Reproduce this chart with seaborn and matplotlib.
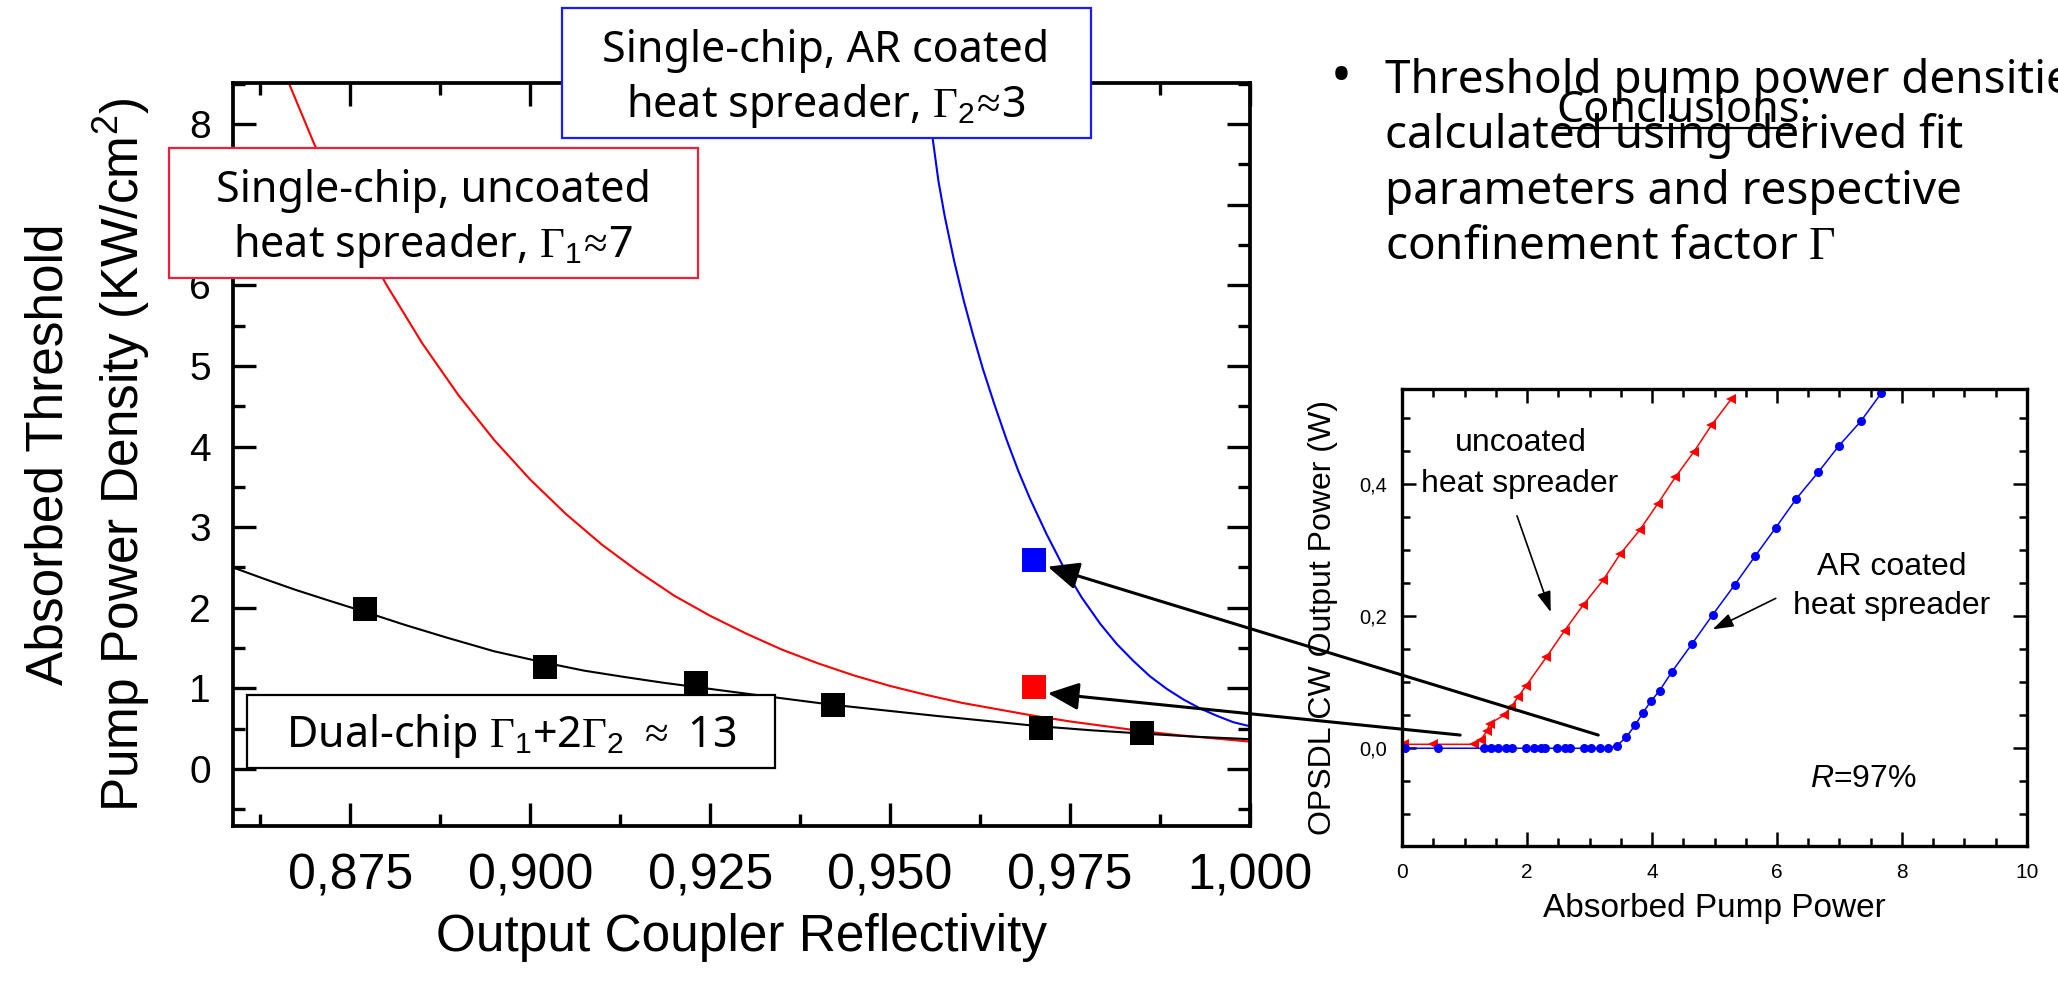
import matplotlib
matplotlib.use("Agg")
import matplotlib.pyplot as plt
import seaborn as sns
from matplotlib.patches import Rectangle, ConnectionPatch
from matplotlib.lines import Line2D
from matplotlib.ticker import MultipleLocator, FixedLocator, FixedFormatter

# ---------------- data ----------------
# main panel: measured threshold densities
dual_R = [0.877, 0.902, 0.923, 0.942, 0.971, 0.985]
dual_P = [1.99, 1.27, 1.07, 0.80, 0.51, 0.45]
uncoated_R = [0.970]
uncoated_P = [1.02]
arcoated_R = [0.970]
arcoated_P = [2.59]

# fit curves
fit_dual_R = [0.8587, 0.8630, 0.8673, 0.8720, 0.8770, 0.8825, 0.8884, 0.8950, 0.9020,
              0.9075, 0.9132, 0.9185, 0.9236, 0.9330, 0.9417, 0.9500, 0.9563, 0.9653,
              0.9708, 0.9780, 0.9850, 0.9925, 1.0000]
fit_dual_P = [2.50, 2.36, 2.225, 2.09, 1.95, 1.79, 1.63, 1.46, 1.32,
              1.22, 1.14, 1.07, 1.01, 0.90, 0.80, 0.72, 0.66, 0.58,
              0.53, 0.48, 0.44, 0.40, 0.37]

fit_unc_R = [0.8665, 0.870, 0.875, 0.880, 0.885, 0.890, 0.895, 0.900, 0.905, 0.910,
             0.915, 0.920, 0.925, 0.930, 0.935, 0.940, 0.945, 0.950, 0.955, 0.960,
             0.965, 0.970, 0.975, 0.980, 0.985, 0.990, 0.995, 1.000]
fit_unc_P = [8.50, 7.75, 6.83, 6.01, 5.28, 4.64, 4.08, 3.59, 3.16, 2.78,
             2.45, 2.15, 1.90, 1.68, 1.48, 1.31, 1.16, 1.03, 0.92, 0.82,
             0.74, 0.66, 0.59, 0.53, 0.47, 0.42, 0.38, 0.34]

fit_ar_R = [0.9548, 0.9559, 0.9567, 0.9576, 0.9589, 0.9602, 0.9615, 0.9629, 0.9645,
            0.9662, 0.9678, 0.9694, 0.9717, 0.9740, 0.9766, 0.9792, 0.9815, 0.9838,
            0.9861, 0.9885, 0.9908, 0.9931, 0.9954, 0.9977, 1.0000]
fit_ar_P = [8.51, 7.83, 7.30, 6.85, 6.30, 5.82, 5.39, 4.96, 4.52,
            4.08, 3.70, 3.36, 2.92, 2.52, 2.13, 1.80, 1.55, 1.34,
            1.15, 0.99, 0.86, 0.75, 0.66, 0.58, 0.53]

x_ticks = [0.875, 0.900, 0.925, 0.950, 0.975, 1.000]
x_tick_labels = ["0,875", "0,900", "0,925", "0,950", "0,975", "1,000"]
y_ticks = [0, 1, 2, 3, 4, 5, 6, 7, 8]
y_tick_labels = ["0", "1", "2", "3", "4", "5", "6", "7", "8"]

# inset: output power vs absorbed pump power (R = 97 %)
unc_pump = [0.03, 0.50, 1.15, 1.26, 1.36, 1.40, 1.63, 1.75, 1.86, 1.98, 2.31, 2.60,
            2.90, 3.22, 3.49, 3.80, 4.09, 4.37, 4.67, 4.95, 5.27]
unc_out = [0.006, 0.006, 0.006, 0.013, 0.026, 0.037, 0.050, 0.063, 0.078, 0.094, 0.138, 0.178,
           0.217, 0.255, 0.294, 0.330, 0.370, 0.410, 0.449, 0.489, 0.529]
ar_pump = [0.05, 0.58, 1.31, 1.42, 1.53, 1.66, 1.76, 1.99, 2.11, 2.22, 2.28, 2.48,
           2.61, 2.68, 2.91, 3.03, 3.16, 3.29, 3.44, 3.59, 3.73, 3.85, 3.98, 4.12,
           4.32, 4.64, 4.97, 5.32, 5.65, 5.98, 6.31, 6.66, 6.99, 7.34, 7.67]
ar_out = [0.000, 0.000, 0.000, 0.000, 0.000, 0.000, 0.000, 0.000, 0.000, 0.000, 0.000, 0.000,
          0.000, 0.000, 0.000, 0.000, 0.000, 0.000, 0.004, 0.017, 0.035, 0.053, 0.071, 0.087,
          0.116, 0.158, 0.202, 0.247, 0.291, 0.334, 0.378, 0.418, 0.458, 0.495, 0.538]
in_x_ticks = [0, 2, 4, 6, 8, 10]
in_x_tick_labels = ["0", "2", "4", "6", "8", "10"]
in_y_ticks = [0.0, 0.2, 0.4]
in_y_tick_labels = ["0,0", "0,2", "0,4"]

# ---------------- style ----------------
sns.set_theme(style="ticks")
plt.rcParams["font.family"] = ["Liberation Sans", "DejaVu Sans"]
plt.rcParams["mathtext.fontset"] = "custom"
plt.rcParams["mathtext.rm"] = "Liberation Serif"
plt.rcParams["mathtext.sf"] = "Liberation Sans"
plt.rcParams["mathtext.bf"] = "Liberation Sans:italic"
for k in ["text.color", "axes.labelcolor", "xtick.color", "ytick.color", "axes.edgecolor"]:
    plt.rcParams[k] = "black"

W, H = 2058, 991
fig = plt.figure(figsize=(W / 100, H / 100), dpi=100)


def fx(px):
    return px / W


def fy(py):
    return 1 - py / H


BOXFONT = ["Noto Sans", "DejaVu Sans"]

# ---------------- main axes ----------------
ax = fig.add_axes([fx(233), fy(826), (1250 - 233) / W, (826 - 83) / H])
ax.set_facecolor("white")

sns.lineplot(x=fit_unc_R, y=fit_unc_P, ax=ax, color="#ff0000", lw=1.5,
             sort=False, estimator=None, legend=False)
sns.lineplot(x=fit_ar_R, y=fit_ar_P, ax=ax, color="#0000ff", lw=1.5,
             sort=False, estimator=None, legend=False)
sns.lineplot(x=fit_dual_R, y=fit_dual_P, ax=ax, color="black", lw=1.5,
             sort=False, estimator=None, legend=False)
sns.scatterplot(x=dual_R, y=dual_P, ax=ax, marker="s", s=300, color="black",
                linewidth=0, zorder=4, legend=False)
sns.scatterplot(x=uncoated_R, y=uncoated_P, ax=ax, marker="s", s=300, color="#ff0000",
                linewidth=0, zorder=4, legend=False)
sns.scatterplot(x=arcoated_R, y=arcoated_P, ax=ax, marker="s", s=300, color="#0000ff",
                linewidth=0, zorder=4, legend=False)

ax.set_xlim(0.8587, 1.0)
ax.set_ylim(-0.707, 8.51)
ax.xaxis.set_major_locator(FixedLocator(x_ticks))
ax.xaxis.set_major_formatter(FixedFormatter(x_tick_labels))
ax.xaxis.set_minor_locator(MultipleLocator(0.0125))
ax.yaxis.set_major_locator(FixedLocator(y_ticks))
ax.yaxis.set_major_formatter(FixedFormatter(y_tick_labels))
ax.yaxis.set_minor_locator(MultipleLocator(0.5))
ax.tick_params(which="both", direction="in", top=True, right=True, width=2.4)
ax.tick_params(which="major", length=16.5)
ax.tick_params(which="minor", length=8.6)
ax.tick_params(axis="x", labelsize=36, pad=20)
ax.tick_params(axis="y", labelsize=28, pad=16)
for s in ax.spines.values():
    s.set_linewidth(2.7)
    s.set_visible(True)

ax.set_xlabel("Output Coupler Reflectivity", fontsize=37)
ax.xaxis.set_label_coords(0.5, (826 - 938) / 743)
ax.xaxis.label.set_va("center")
ax.set_ylabel("Absorbed Threshold\nPump Power Density (KW/cm$^{\\mathsf{2}}$)",
              fontsize=37, linespacing=1.38)
ax.yaxis.set_label_coords((88 - 233) / 1017, 0.5)
ax.yaxis.label.set_va("center")
ax.yaxis.label.set_ha("center")

# ---------------- inset ----------------
axin = fig.add_axes([fx(1402), fy(846), (2027 - 1402) / W, (846 - 389) / H])
sns.lineplot(x=unc_pump, y=unc_out, ax=axin, color="#ff0000", lw=1.1, marker="<",
             markersize=7.5, markeredgewidth=0, sort=False, estimator=None, legend=False)
sns.lineplot(x=ar_pump, y=ar_out, ax=axin, color="#0000ff", lw=1.1, marker="o",
             markersize=6.5, markeredgewidth=0, sort=False, estimator=None, legend=False)
axin.set_xlim(0, 10)
axin.set_ylim(-0.148, 0.544)
axin.xaxis.set_major_locator(FixedLocator(in_x_ticks))
axin.xaxis.set_major_formatter(FixedFormatter(in_x_tick_labels))
axin.xaxis.set_minor_locator(MultipleLocator(0.5))
axin.yaxis.set_major_locator(FixedLocator(in_y_ticks))
axin.yaxis.set_major_formatter(FixedFormatter(in_y_tick_labels))
axin.yaxis.set_minor_locator(MultipleLocator(0.05))
axin.tick_params(which="both", direction="in", top=True, right=True, width=1.8)
axin.tick_params(which="major", length=10)
axin.tick_params(which="minor", length=5.5)
axin.tick_params(axis="x", labelsize=15, pad=12)
axin.tick_params(axis="y", labelsize=14.5, pad=11)
for s in axin.spines.values():
    s.set_linewidth(2.4)
    s.set_visible(True)
axin.set_xlabel("Absorbed Pump Power", fontsize=24)
axin.xaxis.set_label_coords(0.5, -0.136)
axin.xaxis.label.set_va("center")
axin.set_ylabel("OPSDL CW Output Power (W)", fontsize=23)
axin.yaxis.set_label_coords(-0.126, 0.5)
axin.yaxis.label.set_va("center")

axin.text(1.90, 0.450, "uncoated", ha="center", va="baseline", fontsize=23)
axin.text(1.88, 0.388, "heat spreader", ha="center", va="baseline", fontsize=23)
axin.text(7.84, 0.263, "AR coated", ha="center", va="baseline", fontsize=23)
axin.text(7.84, 0.203, "heat spreader", ha="center", va="baseline", fontsize=23)
axin.text(7.39, -0.059, "$\\mathbf{R}$=97%", ha="center", va="baseline", fontsize=23)
small_arrow = dict(arrowstyle="-|>,head_length=0.9,head_width=0.3", color="black",
                   lw=1.2, mutation_scale=14, shrinkA=0, shrinkB=0)
axin.annotate("", xy=(2.38, 0.206), xytext=(1.84, 0.352), arrowprops=small_arrow)
axin.annotate("", xy=(4.97, 0.180), xytext=(5.98, 0.227), arrowprops=small_arrow)

# ---------------- big arrows from inset to main panel ----------------
for tail, tip in [((3.14, 0.020), (0.9719, 2.51)), ((0.93, 0.020), (0.9719, 0.94))]:
    cp = ConnectionPatch(xyA=tail, coordsA=axin.transData, xyB=tip, coordsB=ax.transData,
                         arrowstyle="-|>,head_length=0.95,head_width=0.42", mutation_scale=20,
                         color="black", lw=2.2, zorder=7, shrinkA=0, shrinkB=0)
    fig.add_artist(cp)

# ---------------- annotation boxes ----------------
def box(x0, y0, x1, y1, ec):
    fig.add_artist(Rectangle((fx(x0), fy(y1)), (x1 - x0) / W, (y1 - y0) / H,
                             transform=fig.transFigure, facecolor="white",
                             edgecolor=ec, lw=1.6, zorder=5))


def btext(x, y, s, size=31, **kw):
    fig.text(fx(x), fy(y), s, ha="center", va="baseline", fontsize=size,
             family=BOXFONT, zorder=6, **kw)


box(169, 148, 698, 278, "#f01e3c")
btext(433, 202, "Single-chip, uncoated")
btext(433, 257, "heat spreader, $\\Gamma_{\\mathsf{1}}\\!{\\approx}\\!$7")

box(562, 8, 1091, 138, "#1a1aff")
btext(826, 62, "Single-chip, AR coated")
btext(826, 117, "heat spreader, $\\Gamma_{\\mathsf{2}}\\!{\\approx}\\!$3")

box(247, 695, 775, 768, "black")
btext(511, 747, "Dual-chip $\\Gamma_{\\mathsf{1}}$+2$\\Gamma_{\\mathsf{2}}$ ${\\approx}$ 13")

# ---------------- right-hand text ----------------
RF = ["Noto Sans", "DejaVu Sans"]
fig.text(fx(1341), fy(93), "\u2022", ha="center", va="baseline", fontsize=40, family=RF)
bullet_lines = ["Threshold pump power densities",
                "calculated using derived fit",
                "parameters and respective",
                "confinement factor $\\Gamma$"]
for line, yb in zip(bullet_lines, [93, 148, 204, 259]):
    fig.text(fx(1385), fy(yb), line, ha="left", va="baseline", fontsize=33, family=RF)
fig.text(fx(1556), fy(122), "Conclusions:", ha="left", va="baseline", fontsize=31, family=RF)
fig.add_artist(Line2D([fx(1558), fx(1795)], [fy(128), fy(128)], transform=fig.transFigure,
                      color="black", lw=1.6))

fig.savefig("out.png", dpi=100)
